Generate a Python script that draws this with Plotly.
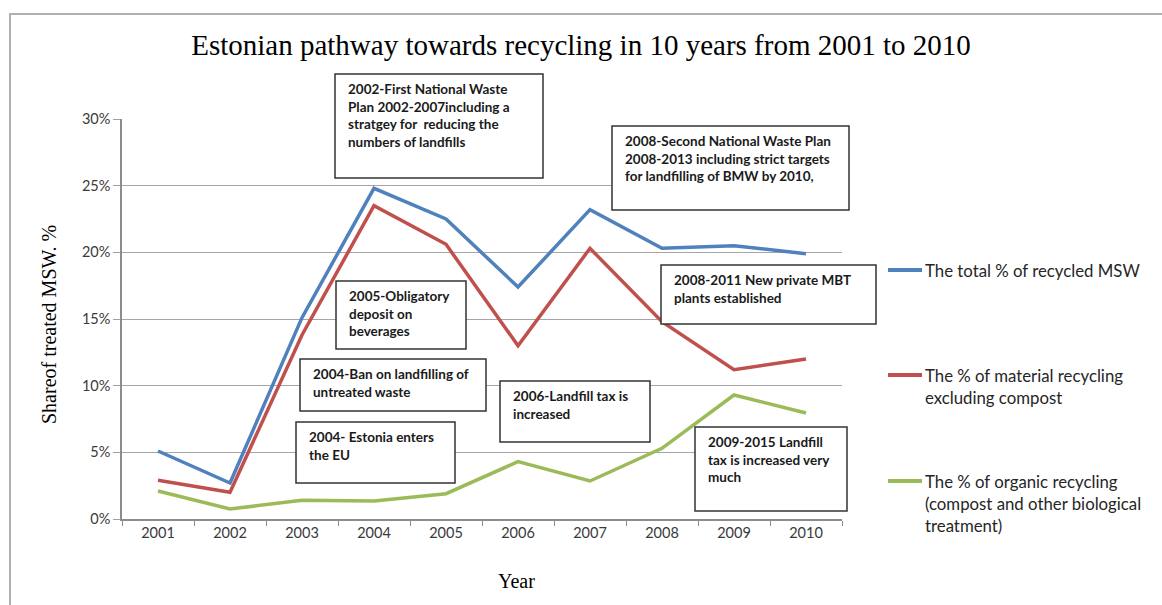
import plotly.graph_objects as go

# Data: share of treated municipal solid waste, %
years = ["2001", "2002", "2003", "2004", "2005", "2006", "2007", "2008", "2009", "2010"]
total_recycled = [5.1, 2.7, 15.1, 24.8, 22.5, 17.4, 23.2, 20.3, 20.5, 19.9]
material_recycling = [2.9, 2.0, 13.8, 23.5, 20.6, 13.0, 20.3, 14.8, 11.2, 12.0]
organic_recycling = [2.1, 0.75, 1.4, 1.35, 1.9, 4.3, 2.85, 5.3, 9.3, 7.95]

series_names = [
    "The total % of recycled MSW",
    "The % of material recycling<br>excluding compost",
    "The % of organic recycling<br>(compost and other biological<br>treatment)",
]
y_ticks = [0, 5, 10, 15, 20, 25, 30]
y_tick_labels = ["0%", "5%", "10%", "15%", "20%", "25%", "30%"]

notes = [
    "2002-First National Waste<br>Plan 2002-2007including a<br>stratgey for  reducing the<br>numbers of landfills",
    "2008-Second National Waste Plan<br>2008-2013 including strict targets<br>for landfilling of BMW by 2010,",
    "2005-Obligatory<br>deposit on<br>beverages",
    "2008-2011 New private MBT<br>plants established",
    "2004-Ban on landfilling of<br>untreated waste",
    "2006-Landfill tax is<br>increased",
    "2004- Estonia enters<br>the EU",
    "2009-2015 Landfill<br>tax is increased very<br>much",
]

# Page geometry (pixels)
W, H = 1162, 605
PL, PR, PT, PB = 122, 842, 119, 519

def px(x):
    return (x - PL) / (PR - PL)

def py(y):
    return (PB - y) / (PB - PT)

colors = ["#4f81bd", "#c0504d", "#9bbb59"]
values = [total_recycled, material_recycling, organic_recycling]

fig = go.Figure()
for name, vals, col in zip(series_names, values, colors):
    fig.add_trace(go.Scatter(
        x=years, y=vals, mode="lines", name=name,
        line=dict(color=col, width=3.5), showlegend=False,
    ))

shapes = []
annotations = []

# Outer frame (top and left edges)
frame_col = "#b0b0b0"
shapes.append(dict(type="line", xref="paper", yref="paper",
                   x0=px(9), x1=px(W + 5), y0=py(14), y1=py(14),
                   line=dict(color=frame_col, width=2)))
shapes.append(dict(type="line", xref="paper", yref="paper",
                   x0=px(10), x1=px(10), y0=py(14), y1=py(H + 5),
                   line=dict(color=frame_col, width=2)))

# Note boxes: (left, top, right, bottom) in pixels
note_boxes = [
    (335, 74, 543, 178),
    (612, 126, 849, 210),
    (336, 281, 466, 349),
    (661, 265, 876, 324),
    (300, 359, 486, 411),
    (500, 381, 650, 442),
    (296, 422, 455, 483),
    (695, 427, 847, 511),
]
for text, (x0, y0, x1, y1) in zip(notes, note_boxes):
    shapes.append(dict(type="rect", xref="paper", yref="paper",
                       x0=px(x0), x1=px(x1), y0=py(y0), y1=py(y1),
                       fillcolor="white", line=dict(color="#333333", width=1.5),
                       layer="above"))
    annotations.append(dict(
        text="<b>" + text.replace("<br>", "</b><br><b>") + "</b>",
        xref="paper", yref="paper", x=px(x0 + 11), y=py(y0 + 5),
        xanchor="left", yanchor="top", align="left", showarrow=False,
        font=dict(family="Lato, Carlito, sans-serif", size=13.5, color="#1a1a1a"),
    ))

# Legend drawn at the right of the plot
legend_rows = [270, 375, 481]
for name, col, yrow in zip(series_names, colors, legend_rows):
    shapes.append(dict(type="line", xref="paper", yref="paper",
                       x0=px(888), x1=px(922), y0=py(yrow), y1=py(yrow),
                       line=dict(color=col, width=4)))
    annotations.append(dict(
        text=name, xref="paper", yref="paper", x=px(923), y=py(yrow - 12),
        xanchor="left", yanchor="top", align="left", showarrow=False,
        font=dict(family="Lato, Carlito, sans-serif", size=16.8, color="#262626"),
    ))

# Axis titles
annotations.append(dict(
    text="Shareof treated MSW. %", xref="paper", yref="paper",
    x=px(49), y=py(325), xanchor="center", yanchor="middle",
    textangle=-90, showarrow=False,
    font=dict(family="Liberation Serif, Times New Roman, serif", size=20, color="black"),
))
annotations.append(dict(
    text="Year", xref="paper", yref="paper",
    x=px(516), y=py(581), xanchor="center", yanchor="middle", showarrow=False,
    font=dict(family="Liberation Serif, Times New Roman, serif", size=20, color="black"),
))

fig.update_layout(
    width=W, height=H,
    margin=dict(l=PL, r=W - PR, t=PT, b=H - PB),
    paper_bgcolor="white", plot_bgcolor="white",
    title=dict(text="Estonian pathway towards recycling in 10 years from 2001 to 2010",
               x=581 / W, xref="container", xanchor="center", y=1 - 45 / H, yanchor="middle",
               font=dict(family="Liberation Serif, Times New Roman, serif", size=29, color="black")),
    xaxis=dict(
        type="category", tickson="boundaries", ticks="outside", ticklen=5,
        tickcolor="#8c8c8c", showline=True, linecolor="#8c8c8c", linewidth=1.5,
        showgrid=False, range=[-0.5, 9.5],
        tickfont=dict(family="Lato, Carlito, sans-serif", size=14.5, color="#3a3a3a"),
    ),
    yaxis=dict(
        range=[0, 30], tickvals=y_ticks, ticktext=y_tick_labels,
        ticks="outside", ticklen=7, tickcolor="#a0a0a0",
        showline=True, linecolor="#8c8c8c", linewidth=1.5,
        showgrid=True, gridcolor="#a6a6a6", gridwidth=1, zeroline=False,
        tickfont=dict(family="Lato, Carlito, sans-serif", size=14.5, color="#3a3a3a"),
    ),
    shapes=shapes, annotations=annotations,
)

fig.write_html("out.html")
